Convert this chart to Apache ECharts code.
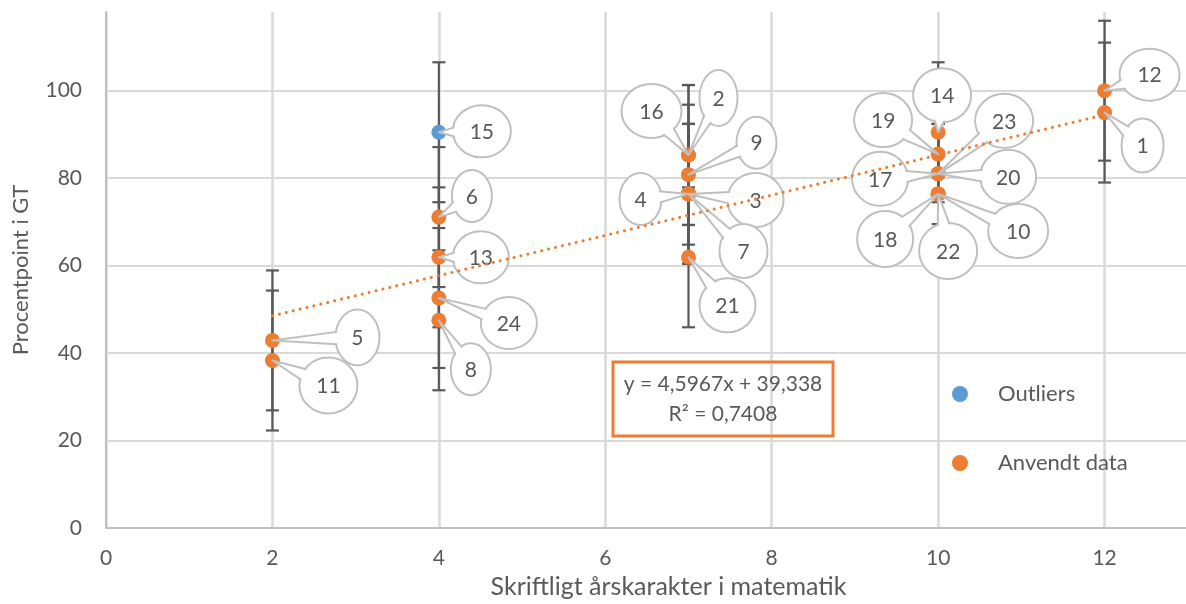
<!DOCTYPE html>
<html>
<head>
<meta charset="utf-8">
<script src="https://cdn.jsdelivr.net/npm/echarts@6/dist/echarts.min.js"></script>
<style>
html,body{margin:0;padding:0;background:#fff;}
#c{width:1186px;height:604px;}
</style>
</head>
<body>
<div id="c"></div>
<script>
// ---- data ----
const usedIds = ['5','11','6','13','24','8','16','2','9','4','3','7','21','14','19','17','23','20','18','22','10','12','1'];
const usedX   = [2, 2, 4, 4, 4, 4, 7, 7, 7, 7, 7, 7, 7, 10, 10, 10, 10, 10, 10, 10, 10, 12, 12];
const usedY   = [42.9, 38.3, 71.1, 61.9, 52.6, 47.5, 85.3, 85.3, 80.8, 76.4, 76.4, 76.4, 61.9, 90.5, 85.5, 81.0, 81.0, 81.0, 76.4, 76.4, 76.4, 100.0, 95.0];
const outIds  = ['15'];
const outX    = [4];
const outY    = [90.5];
const errorValue = 16;            // fixed error bar (+/-)
const trendX  = [2, 12];
const trendY  = [48.53, 94.50];
const xTicks  = [0, 2, 4, 6, 8, 10, 12];
const yTicks  = [0, 20, 40, 60, 80, 100];
const eqLine1 = 'y = 4,5967x + 39,338';
const eqLine2 = 'R² = 0,7408';

// ---- callout layout (pixel offsets of bubble centre from its point, radii) ----
const calloutLayout = {
  '5':[85,-3,22,28], '11':[56,25,29,28], '15':[43,-1,29,26], '6':[33,-21,20,26],
  '13':[42,0,28,26], '24':[70,25,28,26], '8':[32,49,20,26], '16':[-37,-44,30,27],
  '2':[30,-57,19,28], '9':[68,-32,20,26], '4':[-48,5,21,26], '3':[67,6,28,27],
  '7':[55,57,24,27], '21':[39,48,28,27], '14':[4,-37,29,27], '19':[-55,-34,29,27],
  '17':[-58,5,28,27], '23':[66,-53,29,27], '20':[70,3,28,27], '18':[-53,45,28,28],
  '22':[10,57,29,28], '10':[80,37,30,27], '12':[45,-16,30,26], '1':[38,33,21,27]
};

const FONT = 'Lato, "Open Sans", sans-serif';
const TXT = '#595959';
const ORANGE = '#ED7D31';
const BLUE = '#5B9BD5';

const allX = outX.concat(usedX);
const allY = outY.concat(usedY);
const allIds = outIds.concat(usedIds);
const allPts = allX.map((x, i) => [x, allY[i]]);

function errorRender(params, api) {
  const x = api.value(0), y = api.value(1);
  const top = api.coord([x, y + errorValue]);
  const bot = api.coord([x, y - errorValue]);
  const hw = 6.5;
  const st = {stroke: '#595959', lineWidth: 2.2};
  return {type: 'group', children: [
    {type: 'line', shape: {x1: top[0], y1: top[1], x2: bot[0], y2: bot[1]}, style: st},
    {type: 'line', shape: {x1: top[0]-hw, y1: top[1], x2: top[0]+hw, y2: top[1]}, style: st},
    {type: 'line', shape: {x1: bot[0]-hw, y1: bot[1], x2: bot[0]+hw, y2: bot[1]}, style: st}
  ]};
}

function calloutRender(params, api) {
  const id = allIds[params.dataIndex];
  const L = calloutLayout[id];
  const p = api.coord([api.value(0), api.value(1)]);
  const cx = p[0] + L[0], cy = p[1] + L[1], rx = L[2], ry = L[3];
  const t0 = Math.atan2((p[1] - cy) / ry, (p[0] - cx) / rx);
  const d = 0.3, k = 0.8;
  const b1 = [cx + rx * k * Math.cos(t0 + d), cy + ry * k * Math.sin(t0 + d)];
  const b2 = [cx + rx * k * Math.cos(t0 - d), cy + ry * k * Math.sin(t0 - d)];
  const stroke = '#bfbfbf';
  return {type: 'group', children: [
    {type: 'ellipse', shape: {cx: cx, cy: cy, rx: rx, ry: ry}, style: {fill: '#fff', stroke: stroke, lineWidth: 2}},
    {type: 'polygon', shape: {points: [b1, [p[0], p[1]], b2]}, style: {fill: '#fff', stroke: stroke, lineWidth: 2, lineJoin: 'round'}},
    {type: 'ellipse', shape: {cx: cx, cy: cy, rx: rx - 1.4, ry: ry - 1.4}, style: {fill: '#fff'}},
    {type: 'text', style: {x: cx, y: cy + 1, text: id, fill: TXT, font: '21px ' + FONT, align: 'center', verticalAlign: 'middle'}}
  ]};
}

const chart = echarts.init(document.getElementById('c'), null, {renderer: 'canvas'});
chart.setOption({
  animation: false,
  backgroundColor: '#fff',
  grid: {left: 106, top: 12, width: 1165, bottom: 76, outerBoundsMode: 'none', containLabel: false},
  legend: {
    orient: 'vertical', left: 947, top: 378, itemGap: 47,
    itemWidth: 16, itemHeight: 16,
    data: [{name: 'Outliers', icon: 'circle'}, {name: 'Anvendt data', icon: 'circle'}],
    textStyle: {color: TXT, fontSize: 22, fontFamily: FONT, padding: [0, 0, 0, 25]}
  },
  xAxis: {
    type: 'value', min: 0, max: 14, interval: 2,
    name: 'Skriftligt årskarakter i matematik', nameLocation: 'middle', nameGap: 46,
    nameTextStyle: {color: TXT, fontSize: 25, fontFamily: FONT, padding: [0, 40, 0, 0]},
    axisLine: {show: true, lineStyle: {color: '#bfbfbf', width: 2}},
    axisTick: {show: false},
    axisLabel: {color: TXT, fontSize: 21, fontFamily: FONT, margin: 20,
      formatter: v => xTicks.indexOf(v) >= 0 ? String(v) : ''},
    splitLine: {show: true, lineStyle: {color: '#d9d9d9', width: 2.5}}
  },
  yAxis: {
    type: 'value', min: 0, max: 118, interval: 20,
    name: 'Procentpoint i GT', nameLocation: 'middle', nameGap: 74,
    nameTextStyle: {color: TXT, fontSize: 22, fontFamily: FONT},
    axisLine: {show: true, lineStyle: {color: '#bfbfbf', width: 2}},
    axisTick: {show: false},
    axisLabel: {color: TXT, fontSize: 21, fontFamily: FONT, margin: 24, showMaxLabel: false,
      formatter: v => yTicks.indexOf(v) >= 0 ? String(v) : ''},
    splitLine: {show: true, showMaxLine: false, lineStyle: {color: '#d9d9d9', width: 2}}
  },
  graphic: [
    {type: 'rect', x: 613, y: 362, shape: {x: 0, y: 0, width: 220, height: 74}, style: {fill: 'none', stroke: ORANGE, lineWidth: 3}, z: 100},
    {type: 'text', x: 723, y: 384, style: {text: eqLine1, fill: TXT, font: '21px ' + FONT, align: 'center', verticalAlign: 'middle'}, z: 100},
    {type: 'text', x: 723, y: 414, style: {text: eqLine2, fill: TXT, font: '21px ' + FONT, align: 'center', verticalAlign: 'middle'}, z: 100}
  ],
  series: [
    {type: 'custom', name: 'err', renderItem: errorRender, data: allPts, z: 1, silent: true, clip: false},
    {type: 'scatter', name: 'Outliers', data: outX.map((x, i) => [x, outY[i]]), symbolSize: 15, itemStyle: {color: BLUE, opacity: 1}, z: 2},
    {type: 'scatter', name: 'Anvendt data', data: usedX.map((x, i) => [x, usedY[i]]), symbolSize: 15, itemStyle: {color: ORANGE, opacity: 1}, z: 2},
    {type: 'custom', name: 'callouts', renderItem: calloutRender, data: allPts, z: 3, silent: true, clip: false},
    {type: 'line', name: 'trend', data: trendX.map((x, i) => [x, trendY[i]]), symbol: 'none', z: 4,
      lineStyle: {color: ORANGE, width: 3, type: [0.1, 7], cap: 'round'}}
  ]
});
</script>
</body>
</html>
